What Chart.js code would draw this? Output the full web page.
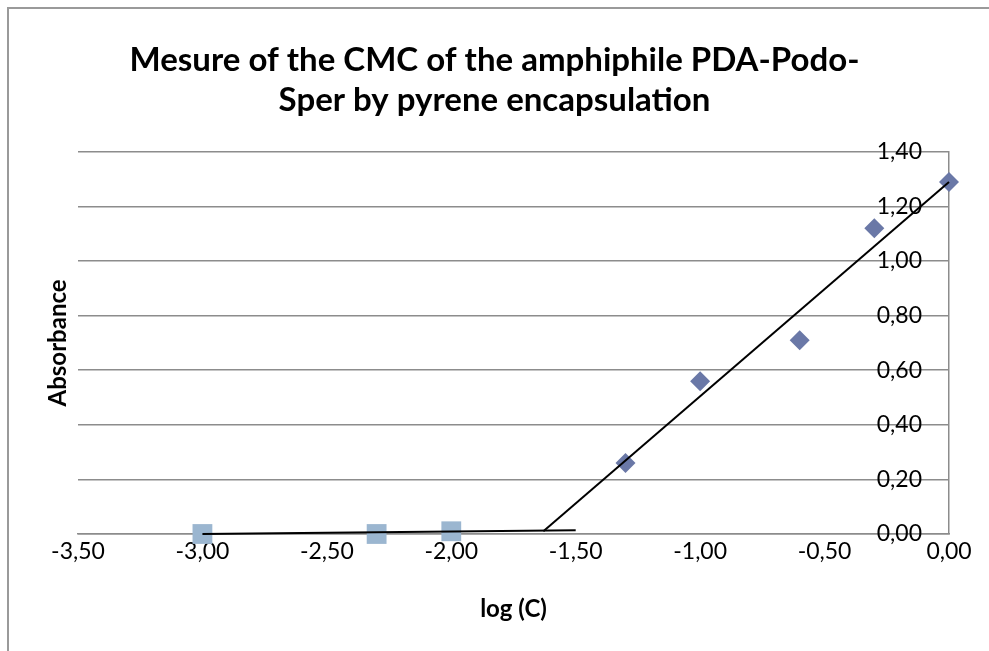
<!DOCTYPE html>
<html>
<head>
<meta charset="utf-8">
<script src="https://cdn.jsdelivr.net/npm/chart.js@4/dist/chart.umd.min.js"></script>
<style>
  body { margin: 0; background: #fff; }
  #wrap { position: relative; width: 989px; height: 651px; }
  #frame { position: absolute; left: 7px; top: 7px; right: 0; bottom: 0; border-left: 2px solid #9a9a9a; border-top: 2px solid #9a9a9a; }
  canvas { position: absolute; left: 0; top: 0; }
</style>
</head>
<body>
<div id="wrap">
  <div id="frame"></div>
  <canvas id="myChart" width="989" height="651"></canvas>
</div>
<script>
// points above the CMC (diamonds)
const highLogC = [-1.30, -1.00, -0.60, -0.30, 0.00];
const highAbs = [0.26, 0.56, 0.71, 1.12, 1.29];

// points below the CMC (squares)
const lowLogC = [-3.00, -2.30, -2.00];
const lowAbs = [0.00, 0.00, 0.01];

// trendline ends
const riseLineX = [-1.63, 0.00];
const riseLineY = [0.01, 1.29];
const flatLineX = [-3.00, -1.50];
const flatLineY = [0.00, 0.014];

const titleLines = ["Mesure of the CMC of the amphiphile PDA-Podo-", "Sper by pyrene encapsulation"];

function toPoints(xs, ys) {
  return xs.map(function(x, i) { return { x: x, y: ys[i] }; });
}

function commaFmt(v) {
  return Number(v).toFixed(2).replace(".", ",");
}

const fontName = "Lato, 'Open Sans', sans-serif";
const gridGray = "#8c8c8c";

const ctx = document.getElementById("myChart");

new Chart(ctx, {
  type: "scatter",
  data: {
    datasets: [
      {
        label: "trend high",
        data: toPoints(riseLineX, riseLineY),
        showLine: true,
        borderColor: "#000",
        borderWidth: 2,
        pointRadius: 0,
        clip: false
      },
      {
        label: "trend low",
        data: toPoints(flatLineX, flatLineY),
        showLine: true,
        borderColor: "#000",
        borderWidth: 2,
        pointRadius: 0,
        clip: false
      },
      {
        label: "high",
        data: toPoints(highLogC, highAbs),
        pointStyle: "rectRot",
        pointRadius: 10,
        backgroundColor: "#6a78a7",
        borderColor: "#6a78a7",
        borderWidth: 0,
        clip: false
      },
      {
        label: "low",
        data: toPoints(lowLogC, lowAbs),
        pointStyle: "rect",
        pointRadius: 14,
        backgroundColor: "#9bb6d0",
        borderColor: "#9bb6d0",
        borderWidth: 0,
        clip: false
      }
    ]
  },
  options: {
    responsive: false,
    animation: false,
    layout: { padding: 0 },
    plugins: {
      legend: { display: false },
      tooltip: { enabled: false },
      title: {
        display: true,
        text: titleLines,
        color: "#000",
        font: { family: fontName, size: 33, weight: "bold", lineHeight: 1.21 },
        padding: { top: 40, bottom: 32 }
      }
    },
    scales: {
      x: {
        type: "linear",
        position: "bottom",
        min: -3.5,
        max: 0,
        grid: { display: false, drawTicks: false },
        border: { display: true, color: gridGray, width: 1.5 },
        ticks: {
          stepSize: 0.5,
          color: "#000",
          padding: 4,
          font: { family: fontName, size: 23 },
          callback: commaFmt
        },
        title: {
          display: true,
          text: "log (C)",
          color: "#000",
          font: { family: fontName, size: 24, weight: "bold", lineHeight: 1.2 },
          padding: { top: 0, bottom: 27 }
        },
        afterFit: function(scale) { scale.height = 117; }
      },
      y: {
        type: "linear",
        position: "right",
        min: 0,
        max: 1.4,
        grid: { color: gridGray, lineWidth: 1.5, drawTicks: false },
        border: { display: true, color: gridGray, width: 1.5 },
        ticks: {
          stepSize: 0.2,
          mirror: true,
          padding: -27,
          color: "#000",
          font: { family: fontName, size: 23 },
          callback: commaFmt
        },
        afterFit: function(scale) { scale.width = 40; }
      },
      yTitle: {
        type: "linear",
        position: "left",
        grid: { display: false, drawTicks: false },
        border: { display: false },
        ticks: { display: false },
        title: {
          display: true,
          text: "Absorbance",
          color: "#000",
          font: { family: fontName, size: 24, weight: "bold", lineHeight: 1.2 },
          padding: { top: 44, bottom: 0 }
        },
        afterFit: function(scale) { scale.width = 78; }
      }
    }
  }
});
</script>
</body>
</html>
